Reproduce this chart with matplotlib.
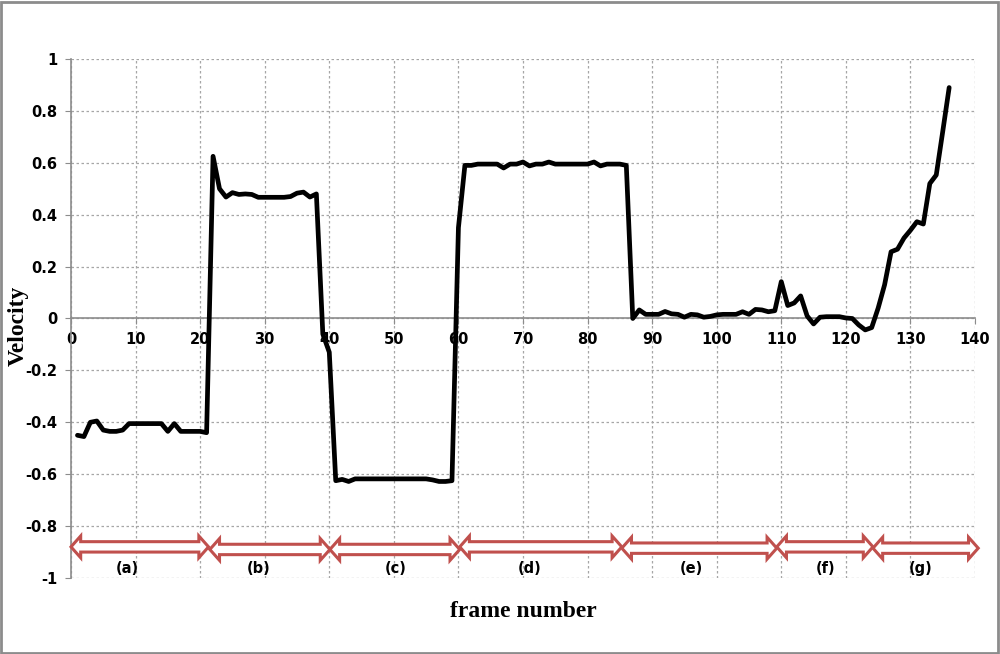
import matplotlib
matplotlib.use('Agg')
import matplotlib.pyplot as plt
from matplotlib.patches import Polygon, Rectangle

# frame numbers and velocity
frames = list(range(1, 137))
velocity = [
    -0.45, -0.455, -0.40, -0.395, -0.43, -0.435, -0.435, -0.43, -0.405, -0.405,   # 1-10
    -0.405, -0.405, -0.405, -0.405, -0.435, -0.405, -0.435, -0.435, -0.435, -0.435,  # 11-20
    -0.44, 0.625, 0.50, 0.468, 0.485, 0.478, 0.48, 0.478, 0.467, 0.467,           # 21-30
    0.467, 0.467, 0.467, 0.47, 0.483, 0.487, 0.468, 0.48, -0.06, -0.13,          # 31-40
    -0.625, -0.62, -0.628, -0.618, -0.618, -0.618, -0.618, -0.618, -0.618, -0.618,  # 41-50
    -0.618, -0.618, -0.618, -0.618, -0.618, -0.622, -0.628, -0.628, -0.625, 0.35,   # 51-60
    0.59, 0.59, 0.595, 0.595, 0.595, 0.595, 0.58, 0.595, 0.595, 0.603,           # 61-70
    0.588, 0.595, 0.595, 0.603, 0.595, 0.595, 0.595, 0.595, 0.595, 0.595,        # 71-80
    0.603, 0.588, 0.595, 0.595, 0.595, 0.59, 0.0, 0.033, 0.016, 0.016,           # 81-90
    0.016, 0.027, 0.018, 0.016, 0.005, 0.016, 0.014, 0.005, 0.008, 0.014,        # 91-100
    0.016, 0.016, 0.016, 0.026, 0.016, 0.035, 0.033, 0.026, 0.03, 0.142,         # 101-110
    0.05, 0.06, 0.087, 0.01, -0.021, 0.005, 0.007, 0.007, 0.007, 0.002,          # 111-120
    0.0, -0.025, -0.044, -0.035, 0.04, 0.13, 0.257, 0.267, 0.31, 0.34,           # 121-130
    0.373, 0.364, 0.52, 0.553, 0.72, 0.89,                                       # 131-136
]

# phase arrows: start, end, label
phase_labels = ['(a)', '(b)', '(c)', '(d)', '(e)', '(f)', '(g)']
phase_start = [0.0, 21.5, 40.1, 60.2, 85.3, 109.3, 124.2]
phase_end = [21.3, 40.1, 60.2, 85.3, 109.3, 124.2, 140.5]
phase_y = [-0.88, -0.89, -0.89, -0.88, -0.885, -0.88, -0.885]
label_x = [8.7, 29.1, 50.3, 71.1, 96.0, 116.9, 131.6]

xticks = list(range(0, 141, 10))
yticks = [-1, -0.8, -0.6, -0.4, -0.2, 0, 0.2, 0.4, 0.6, 0.8, 1]
ytick_labels = ['-1', '-0.8', '-0.6', '-0.4', '-0.2', '0', '0.2', '0.4', '0.6', '0.8', '1']

tick_font = 'DejaVu Sans'
red = '#C0504D'
axis_gray = '#8c8c8c'

fig = plt.figure(figsize=(10, 6.54), dpi=100)
ax = fig.add_axes([0.071, 0.1162, 0.904, 0.7936])

ax.plot(frames, velocity, color='black', lw=3.4, solid_joinstyle='round',
        solid_capstyle='round', zorder=5)

ax.set_xlim(0, 140)
ax.set_ylim(-1, 1)
ax.set_xticks(xticks)
ax.set_yticks(yticks)
ax.set_yticklabels(ytick_labels)

ax.grid(True, color='#a6a6a6', linestyle=(0, (2, 2)), linewidth=0.9)
ax.set_axisbelow(True)

ax.spines['top'].set_visible(False)
ax.spines['right'].set_visible(False)
ax.spines['bottom'].set_position(('data', 0))
ax.spines['bottom'].set_color(axis_gray)
ax.spines['left'].set_color(axis_gray)
ax.spines['bottom'].set_linewidth(1.2)
ax.spines['left'].set_linewidth(1.2)

ax.tick_params(axis='x', direction='out', length=4, color=axis_gray, pad=6)
ax.tick_params(axis='y', direction='out', length=4, color=axis_gray, pad=6)
for lab in ax.get_xticklabels() + ax.get_yticklabels():
    lab.set_fontfamily(tick_font)
    lab.set_fontweight('bold')
    lab.set_fontsize(10.5)

# hollow double-headed arrows for the phases
head_len = 1.5
head_half = 0.042
shaft_half = 0.02
for x0, x1, yc, lx, txt in zip(phase_start, phase_end, phase_y, label_x, phase_labels):
    verts = [
        (x0, yc), (x0 + head_len, yc + head_half), (x0 + head_len, yc + shaft_half),
        (x1 - head_len, yc + shaft_half), (x1 - head_len, yc + head_half), (x1, yc),
        (x1 - head_len, yc - head_half), (x1 - head_len, yc - shaft_half),
        (x0 + head_len, yc - shaft_half), (x0 + head_len, yc - head_half),
    ]
    ax.add_patch(Polygon(verts, closed=True, facecolor='white', edgecolor=red,
                         lw=2.2, joinstyle='miter', clip_on=False, zorder=4))
    ax.text(lx, -0.965, txt, ha='center', va='center', fontfamily=tick_font,
            fontweight='bold', fontsize=10.5, zorder=6)

fig.text(0.018, 0.5015, 'Velocity', rotation=90, ha='center', va='center',
         fontfamily='Liberation Serif', fontweight='bold', fontsize=17)
fig.text(0.523, 0.0657, 'frame number', ha='center', va='center',
         fontfamily='Liberation Serif', fontweight='bold', fontsize=17)

fig.patches.append(Rectangle((0.001, 0.0015), 0.997, 0.996, transform=fig.transFigure,
                             fill=False, edgecolor='#8c8c8c', lw=2))

fig.savefig('out.png', dpi=100)
